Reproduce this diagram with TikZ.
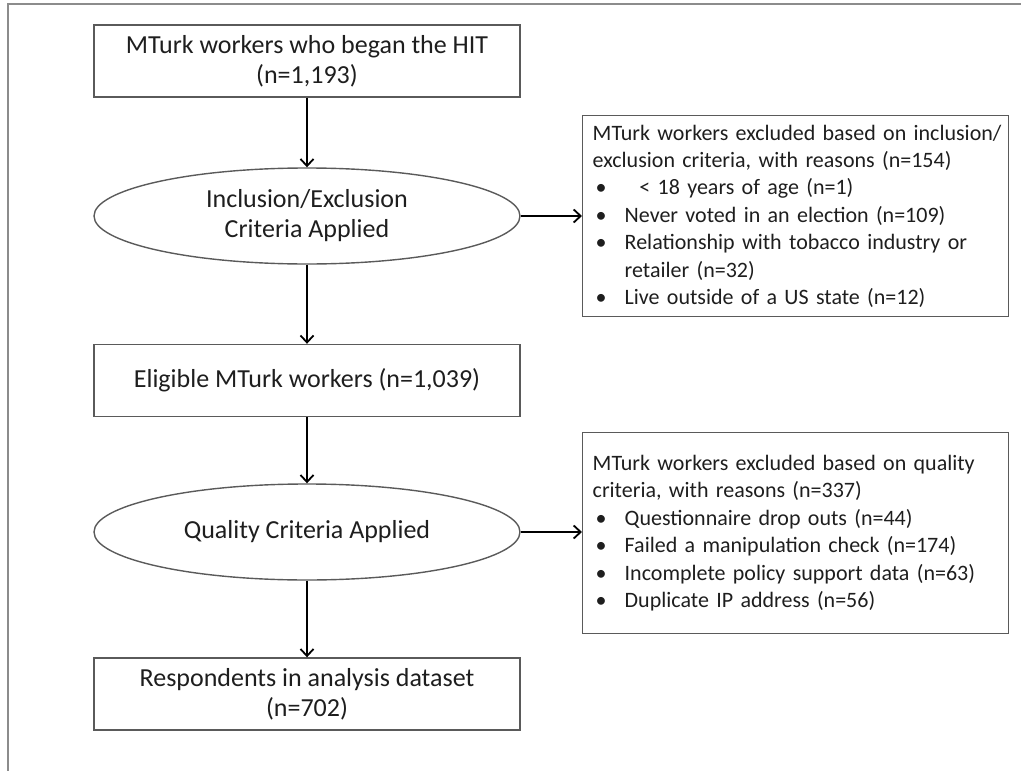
\documentclass[tikz,border=0pt]{standalone}
\usepackage{fontspec}
\setmainfont{Carlito}
\usetikzlibrary{shapes.geometric,arrows.meta}
\hyphenpenalty=10000
\exhyphenpenalty=10000
\hbadness=10000
\hfuzz=20pt
\definecolor{edgegray}{HTML}{5A5A5A}
\definecolor{framegray}{HTML}{8C8C8C}
\definecolor{inkdark}{HTML}{1E1E1E}
\newcommand{\bitem}{\makebox[32pt][l]{\hspace{3pt}•}}
\tikzset{
  every node/.style={text=inkdark},
  flowbox/.style={draw=edgegray, line width=1.4pt, rectangle, minimum width=426pt,
    minimum height=72pt, align=center, inner sep=0pt,
    font=\fontsize{26}{30}\selectfont},
  flowoval/.style={draw=edgegray, line width=1.4pt, ellipse, minimum width=426pt,
    minimum height=96pt, align=center, inner sep=0pt,
    font=\fontsize{26}{30}\selectfont},
  reasonbox/.style={draw=edgegray, line width=1.4pt, rectangle, anchor=north west,
    text width=406pt, minimum height=201pt, inner xsep=10pt, inner ysep=0pt,
    align=left, font=\fontsize{22}{27.4}\selectfont},
  flowarrow/.style={draw=black, line width=1.8pt,
    -{Straight Barb[length=7pt,width=13pt,line width=1.8pt]}},
  frameline/.style={draw=framegray, line width=2pt}
}
\begin{document}
\begin{tikzpicture}[x=1pt,y=-1pt]
\useasboundingbox (0,0) rectangle (1021,771);

% outer frame (top and left edges)
\coordinate (frameTL) at (8,4);
\coordinate (frameTR) at (1021,4);
\coordinate (frameBL) at (8,771);
\draw[frameline] (frameTR) -- (frameTL) -- (frameBL);

% main flow
\node[flowbox] (began) at (307,61) {MTurk workers who began the HIT\\(n=1,193)};
\node[flowoval] (incl) at (307,216) {Inclusion/Exclusion\\Criteria Applied};
\node[flowbox] (eligible) at (307,380.5) {Eligible MTurk workers (n=1,039)};
\node[flowoval] (quality) at (307,532) {Quality Criteria Applied};
\node[flowbox] (final) at (307,694) {Respondents in analysis dataset\\(n=702)};

% exclusion boxes
\node[reasonbox] (excl1) at (582,115) {\mbox{MTurk workers excluded based on inclusion/}\\
\mbox{exclusion criteria, with reasons (n=154)}\\
\bitem\ \ < 18 years of age (n=1)\\
\bitem Never voted in an election (n=109)\\
\bitem \mbox{Relationship with tobacco industry or}\\
\hspace*{32pt}retailer (n=32)\\
\bitem Live outside of a US state (n=12)};
\node[reasonbox] (excl2) at (582,432) {MTurk workers excluded based on quality\\
criteria, with reasons (n=337)\\
\bitem Questionnaire drop outs (n=44)\\
\bitem Failed a manipulation check (n=174)\\
\bitem Incomplete policy support data (n=63)\\
\bitem Duplicate IP address (n=56)};

% connectors
\draw[flowarrow] (began) -- (incl);
\draw[flowarrow] (incl) -- (eligible);
\draw[flowarrow] (eligible) -- (quality);
\draw[flowarrow] (quality) -- (final);
\draw[flowarrow] (incl.east) -- (excl1.west |- incl.east);
\draw[flowarrow] (quality.east) -- (excl2.west |- quality.east);
\end{tikzpicture}
\end{document}
